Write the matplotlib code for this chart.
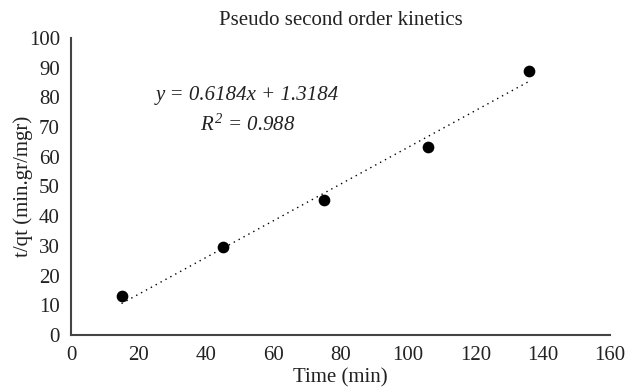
import matplotlib
matplotlib.use('Agg')
import matplotlib.pyplot as plt
import numpy as np

time_min = [15, 45, 75, 106, 136]
t_over_qt = [13.0, 29.6, 45.5, 63.4, 89.0]
slope = 0.6184
intercept = 1.3184
eq_text = 'y = 0.6184x + 1.3184'
r2_text = '$R^2$ = 0.988'

plt.rcParams['font.family'] = ['Liberation Serif', 'DejaVu Serif']
plt.rcParams['mathtext.fontset'] = 'custom'
plt.rcParams['mathtext.it'] = 'Liberation Serif:italic'
plt.rcParams['mathtext.rm'] = 'Liberation Serif:italic'

fs = 15
fig = plt.figure(figsize=(6.43, 3.90), dpi=100)
ax = fig.add_axes([0.1104, 0.141, 0.8383, 0.7616])

ax.scatter(time_min, t_over_qt, s=55, color='black', zorder=3)

# linear trendline over the range of the data
xs = np.array([time_min[0], time_min[-1]])
ax.plot(xs, slope * xs + intercept, color='black', linestyle=(0, (1, 3)), linewidth=1.0)

ax.set_xlim(0, 160)
ax.set_ylim(0, 100)
ax.set_xticks(range(0, 161, 20))
ax.set_yticks(range(0, 101, 10))
ax.tick_params(length=0, labelsize=fs, colors='#222222')
ax.tick_params(axis='x', pad=8)
ax.tick_params(axis='y', pad=8)

for side in ['top', 'right']:
    ax.spines[side].set_visible(False)
for side in ['left', 'bottom']:
    ax.spines[side].set_color('#444444')
    ax.spines[side].set_linewidth(1.5)

ax.set_title('Pseudo second order kinetics', fontsize=fs, color='#222222', pad=9)
ax.set_xlabel('Time (min)', fontsize=fs, color='#222222', labelpad=2)
ax.set_ylabel('t/qt (min.gr/mgr)', fontsize=fs, color='#222222')
ax.yaxis.set_label_coords(-0.07, 0.5)

ax.text(0.327, 0.805, eq_text, transform=ax.transAxes, ha='center', va='center',
        fontsize=fs, style='italic', color='#222222')
ax.text(0.327, 0.705, r2_text, transform=ax.transAxes, ha='center', va='center',
        fontsize=fs, style='italic', color='#222222')

fig.savefig('out.png', dpi=100)
